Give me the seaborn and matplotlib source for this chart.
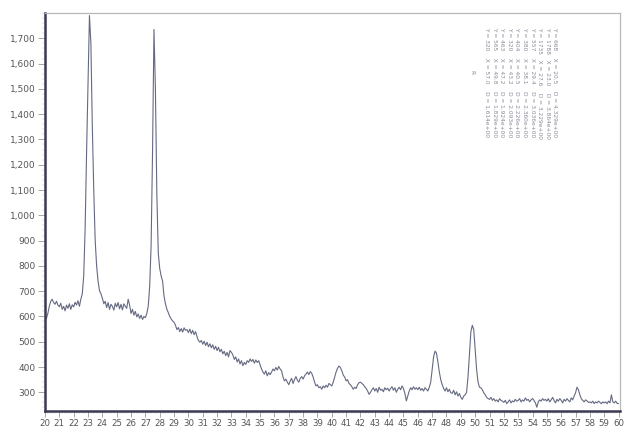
import numpy as np
import pandas as pd
import matplotlib
matplotlib.use("Agg")
import matplotlib.pyplot as plt
import seaborn as sns
from matplotlib.ticker import MultipleLocator, FuncFormatter

# 2-theta grid (0.1 deg steps, 20..60) and read intensities per degree
two_theta_start = 20.0
two_theta_step = 0.1
intensity_rows = [
    [585, 592, 612, 640, 660, 668, 655, 648, 660, 645],    # 20
    [638, 652, 628, 640, 622, 645, 632, 650, 628, 646],    # 21
    [638, 656, 645, 662, 640, 668, 690, 760, 950, 1250],   # 22
    [1520, 1790, 1680, 1350, 1100, 900, 800, 740, 702, 690],  # 23
    [672, 650, 660, 635, 655, 628, 648, 640, 625, 652],    # 24
    [638, 655, 630, 648, 626, 650, 640, 632, 668, 645],    # 25
    [612, 628, 605, 620, 598, 610, 592, 605, 588, 600],    # 26
    [595, 612, 640, 720, 880, 1250, 1735, 1500, 1080, 850],  # 27
    [790, 760, 740, 680, 650, 628, 615, 600, 590, 582],    # 28
    [577, 565, 548, 556, 540, 552, 538, 555, 545, 548],    # 29
    [536, 550, 532, 545, 528, 540, 520, 505, 498, 505],    # 30
    [490, 502, 485, 498, 480, 492, 476, 488, 470, 482],    # 31
    [465, 478, 460, 470, 452, 462, 445, 458, 440, 465],    # 32
    [458, 448, 430, 440, 420, 432, 412, 425, 405, 418],    # 33
    [410, 425, 418, 432, 422, 430, 415, 428, 418, 425],    # 34
    [408, 392, 380, 372, 385, 365, 378, 370, 380, 392],    # 35
    [385, 398, 388, 402, 392, 385, 360, 345, 352, 340],    # 36
    [330, 345, 355, 335, 350, 362, 348, 340, 355, 362],    # 37
    [352, 365, 372, 380, 370, 382, 375, 360, 340, 325],    # 38
    [330, 318, 322, 312, 325, 318, 328, 320, 335, 330],    # 39
    [325, 340, 360, 380, 395, 404, 398, 385, 368, 360],    # 40
    [345, 350, 335, 330, 322, 312, 320, 315, 330, 338],    # 41
    [340, 335, 330, 322, 315, 305, 292, 300, 310, 318],    # 42
    [305, 315, 300, 320, 308, 312, 302, 318, 310, 316],    # 43
    [305, 315, 322, 308, 318, 300, 312, 320, 310, 325],    # 44
    [315, 295, 266, 285, 305, 318, 310, 322, 312, 318],    # 45
    [310, 320, 308, 315, 305, 318, 312, 305, 320, 340],    # 46
    [390, 440, 463, 455, 420, 380, 350, 330, 315, 305],    # 47
    [318, 302, 312, 298, 296, 308, 290, 302, 285, 295],    # 48
    [280, 272, 285, 290, 300, 360, 450, 540, 565, 548],    # 49
    [470, 390, 340, 320, 318, 310, 298, 290, 280, 275],    # 50
    [272, 280, 268, 275, 265, 270, 262, 275, 268, 265],    # 51
    [260, 268, 255, 262, 270, 258, 266, 262, 272, 265],    # 52
    [268, 275, 262, 270, 265, 278, 268, 272, 262, 270],    # 53
    [275, 268, 258, 241, 262, 270, 265, 275, 268, 272],    # 54
    [265, 275, 262, 270, 280, 268, 258, 272, 265, 275],    # 55
    [268, 258, 272, 265, 275, 268, 262, 278, 270, 285],    # 56
    [298, 320, 310, 290, 275, 268, 262, 270, 266, 260],    # 57
    [262, 258, 265, 255, 262, 258, 265, 260, 255, 262],    # 58
    [258, 262, 255, 265, 258, 290, 262, 258, 265, 256],    # 59
    [255],                                                 # 60
]
intensity = [v for row in intensity_rows for v in row]
two_theta = two_theta_start + two_theta_step * np.arange(len(intensity))

y_ticks = [300, 400, 500, 600, 700, 800, 900, 1000, 1100, 1200, 1300, 1400, 1500, 1600, 1700]
x_ticks = list(range(20, 61))

peak_labels = [
    "Y = 668    X = 20.5    D = 4.329e+00",
    "Y = 1788   X = 23.0    D = 3.864e+00",
    "Y = 1735   X = 27.6    D = 3.229e+00",
    "Y = 557    X = 29.4    D = 3.036e+00",
    "Y = 380    X = 38.1    D = 2.360e+00",
    "Y = 404    X = 40.5    D = 2.226e+00",
    "Y = 320    X = 43.2    D = 2.093e+00",
    "Y = 463    X = 47.2    D = 1.924e+00",
    "Y = 565    X = 49.8    D = 1.829e+00",
    "Y = 320    X = 57.0    D = 1.614e+00",
]

df = pd.DataFrame({"two_theta": two_theta, "intensity": intensity})

sns.set_style("white")
fig = plt.figure(figsize=(6.29, 4.32), dpi=100)
ax = fig.add_axes([45 / 629, 21 / 432, 575 / 629, 398 / 432])

sns.lineplot(data=df, x="two_theta", y="intensity", ax=ax, color="#656a82",
             linewidth=0.8, estimator=None)

ax.set_xlim(20, 60.1)
ax.set_ylim(226, 1800)
ax.set_xlabel("")
ax.set_ylabel("")
ax.set_xticks(x_ticks)
ax.set_yticks(y_ticks)
ax.yaxis.set_major_formatter(FuncFormatter(lambda v, p: f"{int(v):,}"))
ax.xaxis.set_minor_locator(MultipleLocator(0.2))
ax.yaxis.set_minor_locator(MultipleLocator(20))
ax.tick_params(axis="both", which="major", direction="out", length=4, width=0.6,
               color="#999999", labelcolor="#555555", pad=2)
ax.tick_params(axis="x", which="major", labelsize=6.2, length=4)
ax.tick_params(axis="y", which="major", labelsize=6.5, length=5)
ax.tick_params(axis="both", which="minor", direction="out", length=2.5, width=0.35,
               color="#c4c4c4")
ax.tick_params(axis="x", which="both", bottom=True)
ax.tick_params(axis="y", which="both", left=True)

for side in ["left", "bottom"]:
    ax.spines[side].set_color("#3a3a52")
    ax.spines[side].set_linewidth(1.8)
for side in ["top", "right"]:
    ax.spines[side].set_color("#b8b8b8")
    ax.spines[side].set_linewidth(0.9)

# rotated peak list block
for i, lab in enumerate(peak_labels):
    xp = (555 - i * 7.6) / 629
    fig.text(xp, 1 - 27 / 432, lab, rotation=270, ha="center", va="top",
             fontsize=4.2, color="#8a8a9a")
fig.text(472 / 629, 1 - 70 / 432, "R", rotation=270, ha="center", va="top",
         fontsize=4.2, color="#8a8a9a")

fig.savefig("out.png", dpi=100)
